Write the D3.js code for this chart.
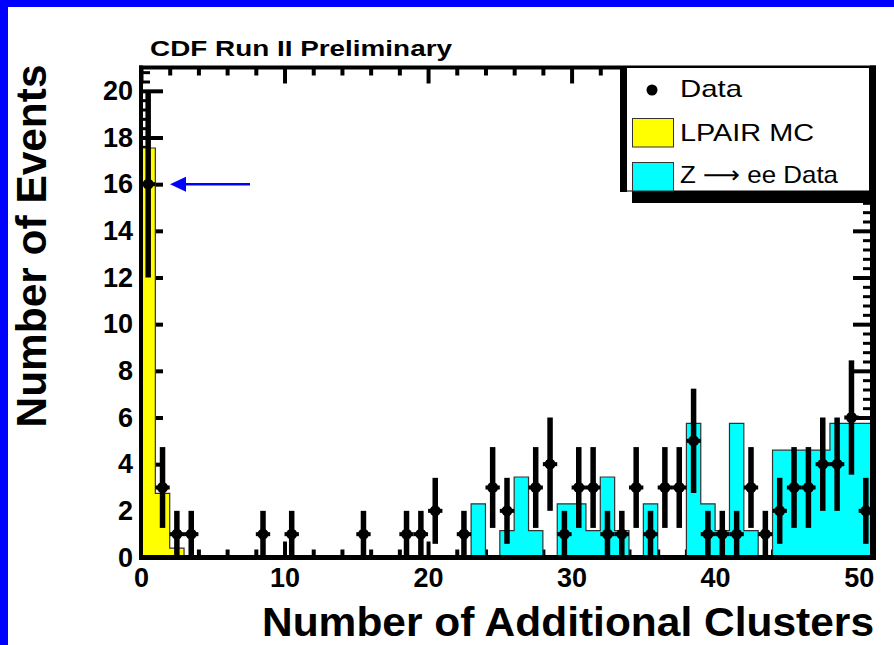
<!DOCTYPE html>
<html>
<head>
<meta charset="utf-8">
<script src="https://cdn.jsdelivr.net/npm/d3@7"></script>
<style>
    html, body { margin: 0; padding: 0; background: #fff; }
    svg { display: block; }
    .axis-label { font-family: "Liberation Sans", Arial, sans-serif; font-weight: bold; font-size: 27px; fill: #000; }
    .legend-text { font-family: "Liberation Sans", Arial, sans-serif; font-size: 24px; fill: #000; }
</style>
</head>
<body>
<div id="chart"></div>
<script>

// ---- data ----

// data points: bin centres and event counts
const dataCenters = [0.5, 1.5, 2.5, 3.5, 8.5, 10.5, 15.5, 18.5, 19.5, 20.5, 22.5,
    24.5, 25.5, 27.5, 28.5, 29.5, 30.5, 31.5, 32.5, 33.5, 34.5, 35.5, 36.5, 37.5,
    38.5, 39.5, 40.5, 41.5, 42.5, 43.5, 44.5, 45.5, 46.5, 47.5, 48.5, 49.5, 50.5];
const dataCounts = [16, 3, 1, 1, 1, 1, 1, 1, 1, 2, 1,
    3, 2, 3, 4, 1, 3, 3, 1, 1, 3, 1, 3, 3,
    5, 1, 1, 1, 3, 1, 2, 3, 3, 4, 4, 6, 2];

// LPAIR MC histogram, bins of width 1 starting at 0
const lpairValues = [17.55, 2.75, 0.4];

// Z -> ee data histogram (normalised), bins 0..50
const zeeValues = [
    0, 0, 0, 0, 0, 0, 0, 0, 0, 0,
    0, 0, 0, 0, 0, 0, 0, 0, 0, 0,
    0, 0, 0, 2.3, 0, 1.15, 3.45, 1.15, 0, 2.3,
    2.3, 1.15, 3.45, 1.15, 0, 2.3, 0, 0, 5.75, 2.3,
    1.15, 5.75, 1.15, 0, 4.6, 4.6, 4.6, 4.6, 5.75, 5.75,
    5.75
];

const xTickLabels = [0, 10, 20, 30, 40, 50];
const yTickLabels = [0, 2, 4, 6, 8, 10, 12, 14, 16, 18, 20];

const legendLabels = ["Data", "LPAIR MC", "Z \u27F6 ee Data"];

// ---- drawing ----

const W = 894, H = 645;
const frame = {left: 141, right: 873, top: 67.5, bottom: 557.5};

const svg = d3.select("#chart").append("svg")
    .attr("width", W)
    .attr("height", H);

// blue slide border
svg.append("rect").attr("x", 0).attr("y", 0).attr("width", W).attr("height", 7).attr("fill", "#0000ff");
svg.append("rect").attr("x", 0).attr("y", 0).attr("width", 8).attr("height", H).attr("fill", "#0000ff");

const x = d3.scaleLinear().domain([0, 51]).range([frame.left, frame.right]);
const y = d3.scaleLinear().domain([0, 21]).range([frame.bottom, frame.top]);

const xMinor = d3.range(2, 51, 2).filter((v) => v % 10 !== 0);
const yMinor = d3.range(0, 21.01, 0.4).filter((v) => Math.abs(v / 2 - Math.round(v / 2)) > 1e-6);

// ticks (all pointing into the frame)
function styleAxis(g) {
    g.select(".domain").remove();
    g.selectAll(".tick line").attr("stroke", "#000").attr("stroke-width", 4);
    g.selectAll(".tick text").attr("class", "axis-label");
}

svg.append("g").attr("transform", `translate(0,${frame.bottom})`)
    .call(d3.axisBottom(x).tickValues(xTickLabels).tickSize(-16).tickPadding(10).tickFormat(d3.format("d")))
    .call(styleAxis);
svg.append("g").attr("transform", `translate(0,${frame.bottom})`)
    .call(d3.axisBottom(x).tickValues(xMinor).tickSize(-8).tickFormat(""))
    .call(styleAxis);
svg.append("g").attr("transform", `translate(0,${frame.top})`)
    .call(d3.axisTop(x).tickValues(xTickLabels).tickSize(-16).tickFormat(""))
    .call(styleAxis);
svg.append("g").attr("transform", `translate(0,${frame.top})`)
    .call(d3.axisTop(x).tickValues(xMinor).tickSize(-8).tickFormat(""))
    .call(styleAxis);

svg.append("g").attr("transform", `translate(${frame.left},0)`)
    .call(d3.axisLeft(y).tickValues(yTickLabels).tickSize(-22).tickPadding(8).tickFormat(d3.format("d")))
    .call(styleAxis);
svg.append("g").attr("transform", `translate(${frame.left},0)`)
    .call(d3.axisLeft(y).tickValues(yMinor).tickSize(-9).tickFormat(""))
    .call((g) => { styleAxis(g); g.selectAll(".tick line").attr("stroke-width", 3); });
svg.append("g").attr("transform", `translate(${frame.right},0)`)
    .call(d3.axisRight(y).tickValues(yTickLabels).tickSize(-20).tickFormat(""))
    .call(styleAxis);
svg.append("g").attr("transform", `translate(${frame.right},0)`)
    .call(d3.axisRight(y).tickValues(yMinor).tickSize(-10).tickFormat(""))
    .call((g) => { styleAxis(g); g.selectAll(".tick line").attr("stroke-width", 3); });

// step histograms
function histPoints(values) {
    let pts = values.map((v, i) => [i, v]);
    pts.push([values.length, values[values.length - 1]]);
    return pts;
}
const area = d3.area()
    .x((d) => x(d[0]))
    .y0(y(0))
    .y1((d) => y(d[1]))
    .curve(d3.curveStepAfter);

svg.append("path")
    .datum(histPoints(zeeValues))
    .attr("d", area)
    .attr("fill", "#00ffff")
    .attr("stroke", "#333")
    .attr("stroke-width", 1.2);

svg.append("path")
    .datum(histPoints(lpairValues))
    .attr("d", area)
    .attr("fill", "#ffff00")
    .attr("stroke", "#333")
    .attr("stroke-width", 1.2);

// data points with Poisson error bars
const points = dataCenters.map((c, i) => ({c: c, n: dataCounts[i]}));
const pg = svg.append("g");
pg.selectAll("line.ev")
    .data(points)
    .enter()
    .append("line")
    .attr("x1", (d) => x(d.c))
    .attr("x2", (d) => x(d.c))
    .attr("y1", (d) => y(Math.max(0, d.n - Math.sqrt(d.n))))
    .attr("y2", (d) => y(d.n + Math.sqrt(d.n)))
    .attr("stroke", "#000")
    .attr("stroke-width", 5.5);
pg.selectAll("line.eh")
    .data(points)
    .enter()
    .append("line")
    .attr("x1", (d) => x(d.c - 0.5))
    .attr("x2", (d) => x(d.c + 0.5))
    .attr("y1", (d) => y(d.n))
    .attr("y2", (d) => y(d.n))
    .attr("stroke", "#000")
    .attr("stroke-width", 4);
pg.selectAll("circle")
    .data(points)
    .enter()
    .append("circle")
    .attr("cx", (d) => x(d.c))
    .attr("cy", (d) => y(d.n))
    .attr("r", 5.5)
    .attr("fill", "#000");

// frame
svg.append("line").attr("x1", frame.left).attr("x2", frame.left).attr("y1", frame.top - 2).attr("y2", frame.bottom + 2.5)
    .attr("stroke", "#000").attr("stroke-width", 4);
svg.append("line").attr("x1", frame.right).attr("x2", frame.right).attr("y1", frame.top - 2).attr("y2", frame.bottom + 2.5)
    .attr("stroke", "#000").attr("stroke-width", 6);
svg.append("line").attr("x1", frame.left - 2).attr("x2", frame.right + 3).attr("y1", frame.top).attr("y2", frame.top)
    .attr("stroke", "#000").attr("stroke-width", 4);
svg.append("line").attr("x1", frame.left - 2).attr("x2", frame.right + 3).attr("y1", frame.bottom).attr("y2", frame.bottom)
    .attr("stroke", "#000").attr("stroke-width", 5);

// legend
const lg = svg.append("g");
lg.append("rect").attr("x", 632).attr("y", 191).attr("width", 244).attr("height", 12).attr("fill", "#000");
lg.append("rect").attr("x", 620).attr("y", 66).attr("width", 7).attr("height", 126).attr("fill", "#000");
lg.append("rect").attr("x", 626.5).attr("y", 67.5).attr("width", 243).attr("height", 123.5)
    .attr("fill", "#fff").attr("stroke", "#000").attr("stroke-width", 1);
lg.append("circle").attr("cx", 652).attr("cy", 90).attr("r", 5.5).attr("fill", "#000");
lg.append("rect").attr("x", 632.5).attr("y", 118.5).attr("width", 41).attr("height", 28.5)
    .attr("fill", "#ffff00").attr("stroke", "#333").attr("stroke-width", 1);
lg.append("rect").attr("x", 632.5).attr("y", 162.5).attr("width", 41).attr("height", 28.5)
    .attr("fill", "#00ffff").attr("stroke", "#333").attr("stroke-width", 1);
const legendY = [97, 140.5, 183];
const legendW = [62, 134, 158];
lg.selectAll("text")
    .data(legendLabels)
    .enter()
    .append("text")
    .attr("class", "legend-text")
    .attr("x", 680)
    .attr("y", (d, i) => legendY[i])
    .attr("textLength", (d, i) => legendW[i])
    .attr("lengthAdjust", "spacingAndGlyphs")
    .style("font-family", "'Liberation Sans', 'DejaVu Sans', Arial, sans-serif")
    .text((d) => d);

// arrow pointing at the first bin
const arrowY = y(dataCounts[0]);
svg.append("line").attr("x1", 250).attr("x2", 184).attr("y1", arrowY).attr("y2", arrowY)
    .attr("stroke", "#0000ff").attr("stroke-width", 2.5);
svg.append("path")
    .attr("d", `M170,${arrowY} L186,${arrowY - 7.5} L186,${arrowY + 7.5} Z`)
    .attr("fill", "#0000ff");

// titles
svg.append("text")
    .attr("x", 150).attr("y", 56)
    .attr("textLength", 302).attr("lengthAdjust", "spacingAndGlyphs")
    .style("font-family", "'Liberation Sans Narrow', 'Liberation Sans', Arial, sans-serif")
    .style("font-weight", "bold").style("font-size", "22px")
    .text("CDF Run II Preliminary");

svg.append("text")
    .attr("transform", "translate(46,246) rotate(-90)")
    .attr("text-anchor", "middle")
    .attr("textLength", 363).attr("lengthAdjust", "spacingAndGlyphs")
    .style("font-family", "'Liberation Sans', Arial, sans-serif")
    .style("font-weight", "bold").style("font-size", "42px")
    .text("Number of Events");

svg.append("text")
    .attr("x", 262).attr("y", 636)
    .attr("textLength", 612).attr("lengthAdjust", "spacingAndGlyphs")
    .style("font-family", "'Liberation Sans', Arial, sans-serif")
    .style("font-weight", "bold").style("font-size", "40px")
    .text("Number of Additional Clusters");

</script>
</body>
</html>
